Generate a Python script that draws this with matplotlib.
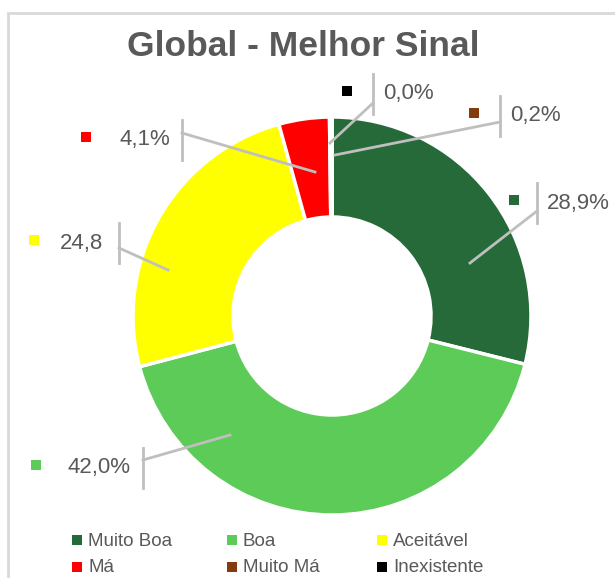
import matplotlib.pyplot as plt
from matplotlib.patches import Rectangle

W, H = 615, 578

categorias = ['Muito Boa', 'Boa', 'Aceitável', 'Má', 'Muito Má', 'Inexistente']
valores = [28.9, 42.0, 24.8, 4.1, 0.2, 0.0]
rotulos = ['28,9%', '42,0%', '24,8', '4,1%', '0,2%', '0,0%']
cores = ['#276A39', '#5DCB57', '#FFFF00', '#FF0000', '#843C0C', '#000000']

plt.rcParams['font.family'] = ['Liberation Sans Narrow', 'Liberation Sans', 'DejaVu Sans']
cinza = '#595959'
linha = '#BFBFBF'

fig = plt.figure(figsize=(W / 100, H / 100), dpi=100)
ax = fig.add_axes([0, 0, 1, 1])
ax.set_xlim(0, W)
ax.set_ylim(0, H)
ax.set_aspect('equal')
ax.axis('off')

def py(y):
    # pixel from top -> data y
    return H - y

# moldura do gráfico (só esquerda e topo visíveis)
ax.add_patch(Rectangle((8, -20), W + 20, py(13) + 20, fill=False,
                       edgecolor='#D9D9D9', lw=2))

ax.pie(valores, colors=cores, startangle=90, counterclock=False,
       center=(332, py(316)), radius=199,
       wedgeprops=dict(width=100, edgecolor='white', linewidth=2.5))
ax.set_xlim(0, W)
ax.set_ylim(0, H)

ax.text(303, py(47), 'Global - Melhor Sinal', ha='center', va='center',
        fontsize=25.5, fontweight='bold', color=cinza)

# rótulos: (marcador x, barra x, texto x, y, lado, início da linha guia, fim y)
pos = {
    'Muito Boa': (514, 537, 547, 203, 'r', (470, 263), 211),
    'Boa': (36, 143, 68, 468, 'l', (230, 435), 460),
    'Aceitável': (34, 119, 60, 243, 'l', (168, 270), 248),
    'Má': (86, 182, 120, 140, 'l', (315, 172), 133),
    'Muito Má': (474, 500, 510, 116, 'r', (335, 155), 122),
    'Inexistente': (347, 373, 383, 94, 'r', (330, 143), 103),
}
for cat, rot, cor in zip(categorias, rotulos, cores):
    mx, bx, tx, y, lado, (lx, ly), by = pos[cat]
    ax.add_patch(Rectangle((mx - 5, py(y - 3) - 5), 10, 10, color=cor, lw=0))
    ax.plot([bx, bx], [py(y - 20), py(y + 20)], color=linha, lw=2)
    ax.plot([lx, bx], [py(ly), py(by)], color=linha, lw=2)
    ax.text(tx, py(y), rot, ha='left', va='center', fontsize=16, color=cinza)

# legenda
leg_x = [77, 232, 382]
leg_y = [540, 567]
for i, (cat, cor) in enumerate(zip(categorias, cores)):
    x = leg_x[i % 3]
    y = leg_y[i // 3]
    ax.add_patch(Rectangle((x - 5, py(y) - 5), 10, 10, color=cor, lw=0))
    ax.text(x + 11, py(y + 1), cat, ha='left', va='center', fontsize=13.5, color=cinza)

fig.savefig('out.png', dpi=100)
